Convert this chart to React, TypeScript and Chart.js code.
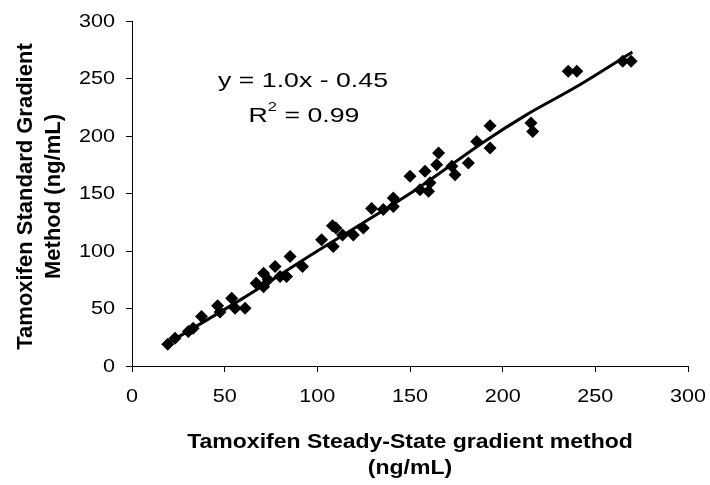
import React, { useEffect, useRef } from "react";
import { Chart, registerables } from "chart.js";

Chart.register(...registerables);

const steadyState = [
  19.3, 23.2, 30.4, 33.0, 37.5, 46.2, 47.5, 53.8, 55.6, 61.0,
  67.0, 71.0, 71.0, 73.5, 77.2, 79.9, 83.4, 85.3, 92.0, 102.3,
  108.2, 108.6, 110.0, 113.6, 119.4, 124.8, 129.3, 135.6, 141.0, 141.0,
  150.0, 155.4, 158.1, 160.0, 160.8, 164.4, 165.4, 172.6, 174.3, 181.5,
  186.0, 193.2, 193.2, 215.3, 216.2, 235.4, 240.0, 264.8, 269.3,
];
const standard = [
  18.9, 24.1, 29.9, 32.8, 43.0, 52.5, 47.0, 59.0, 50.2, 50.2,
  72.0, 80.6, 69.0, 75.0, 86.5, 77.9, 77.9, 95.2, 86.5, 109.8,
  122.0, 104.0, 120.0, 114.0, 114.0, 120.0, 137.0, 136.0, 146.0, 138.7,
  164.9, 153.3, 169.4, 152.0, 159.4, 175.0, 185.3, 173.6, 166.4, 176.5,
  195.3, 189.5, 209.0, 211.4, 204.0, 256.4, 256.4, 265.0, 265.0,
];
const trendX = [19, 60, 100, 150, 190, 213, 240, 270];
const trendY = [19.5, 59, 100, 150, 195, 218.6, 243, 273];
const xTicks = [0, 50, 100, 150, 200, 250, 300];
const yTicks = [0, 50, 100, 150, 200, 250, 300];
const xTitle = ["Tamoxifen Steady-State gradient method", "(ng/mL)"];
const yTitle = ["Tamoxifen Standard Gradient", "Method (ng/mL)"];
const equationLine = "y = 1.0x - 0.45";
const r2Label = "R";
const r2Value = " = 0.99";

const FONT = "'Liberation Sans', Arial, sans-serif";
const STRETCH = 1.2;

function stretchedText(c: any, text: string, x: number, y: number, s: number, align: string) {
  c.save();
  c.translate(x, y);
  c.scale(s, 1);
  c.textAlign = align;
  c.fillText(text, 0, 0);
  c.restore();
}

export default function App() {
  const ref = useRef<HTMLCanvasElement>(null);
  useEffect(() => {
    document.body.style.margin = "0";
    const ctx = ref.current!;
    const textPlugin = {
      id: "texts",
      afterDraw(chart: any) {
        const c = chart.ctx;
        const xs = chart.scales.x;
        const ys = chart.scales.y;
        c.save();
        c.fillStyle = "#000";
        c.textBaseline = "middle";
        // tick labels
        c.font = `18px ${FONT}`;
        yTicks.forEach((v) => {
          stretchedText(c, String(v), 115, ys.getPixelForValue(v) + 1, STRETCH, "right");
        });
        xTicks.forEach((v) => {
          stretchedText(c, String(v), xs.getPixelForValue(v), 397, STRETCH, "center");
        });
        // x title
        c.textBaseline = "alphabetic";
        c.font = `bold 20px ${FONT}`;
        const xc = (xs.left + xs.right) / 2;
        stretchedText(c, xTitle[0], xc, 448, 1.15, "center");
        stretchedText(c, xTitle[1], xc, 474, 1.15, "center");
        // y title
        c.font = `bold 22px ${FONT}`;
        const yc = (ys.top + ys.bottom) / 2 + 3;
        c.save();
        c.translate(32, yc);
        c.rotate(-Math.PI / 2);
        c.textAlign = "center";
        c.fillText(yTitle[0], 0, 0);
        c.fillText(yTitle[1], 0, 28);
        c.restore();
        // equation
        c.font = `21px ${FONT}`;
        const w = c.measureText(equationLine).width;
        const s = 170 / w;
        stretchedText(c, equationLine, 303, 87, s, "center");
        const w1 = c.measureText(r2Label).width;
        const w2 = c.measureText(r2Value).width;
        c.font = `13px ${FONT}`;
        const ws = c.measureText("2").width;
        const total = (w1 + ws + w2) * s;
        const x0 = 304 - total / 2;
        c.font = `21px ${FONT}`;
        stretchedText(c, r2Label, x0, 122, s, "left");
        c.font = `13px ${FONT}`;
        stretchedText(c, "2", x0 + w1 * s, 111, s, "left");
        c.font = `21px ${FONT}`;
        stretchedText(c, r2Value, x0 + (w1 + ws) * s, 122, s, "left");
        c.restore();
      },
    };
    const chart = new Chart(ctx, {
      type: "scatter",
      data: {
        datasets: [
          {
            type: "line",
            data: trendX.map((x, i) => ({ x, y: trendY[i] })),
            borderColor: "#000",
            borderWidth: 3,
            pointRadius: 0,
            tension: 0.3,
            fill: false,
          } as any,
          {
            data: steadyState.map((x, i) => ({ x, y: standard[i] })),
            pointStyle: "rectRot",
            pointRadius: 6.5,
            backgroundColor: "#000",
            borderColor: "#000",
            borderWidth: 0,
          },
        ],
      },
      options: {
        animation: false,
        responsive: false,
        layout: { padding: { top: 21, right: 22, left: 0, bottom: 0 } },
        plugins: { legend: { display: false }, tooltip: { enabled: false } },
        scales: {
          x: {
            type: "linear",
            min: 0,
            max: 300,
            afterBuildTicks: (s: any) => {
              s.ticks = xTicks.map((v) => ({ value: v }));
            },
            afterFit: (s: any) => {
              s.height = 119;
            },
            border: { display: true, color: "#000", width: 1 },
            grid: { drawOnChartArea: false, color: "#000", tickLength: 6 },
            ticks: { display: false },
          },
          y: {
            type: "linear",
            min: 0,
            max: 300,
            afterBuildTicks: (s: any) => {
              s.ticks = yTicks.map((v) => ({ value: v }));
            },
            afterFit: (s: any) => {
              s.width = 132;
            },
            border: { display: true, color: "#000", width: 1 },
            grid: { drawOnChartArea: false, color: "#000", tickLength: 6 },
            ticks: { display: false },
          },
        },
      },
      plugins: [textPlugin],
    } as any);
    return () => chart.destroy();
  }, []);
  return <canvas ref={ref} width={710} height={485} style={{ display: "block" }} />;
}
